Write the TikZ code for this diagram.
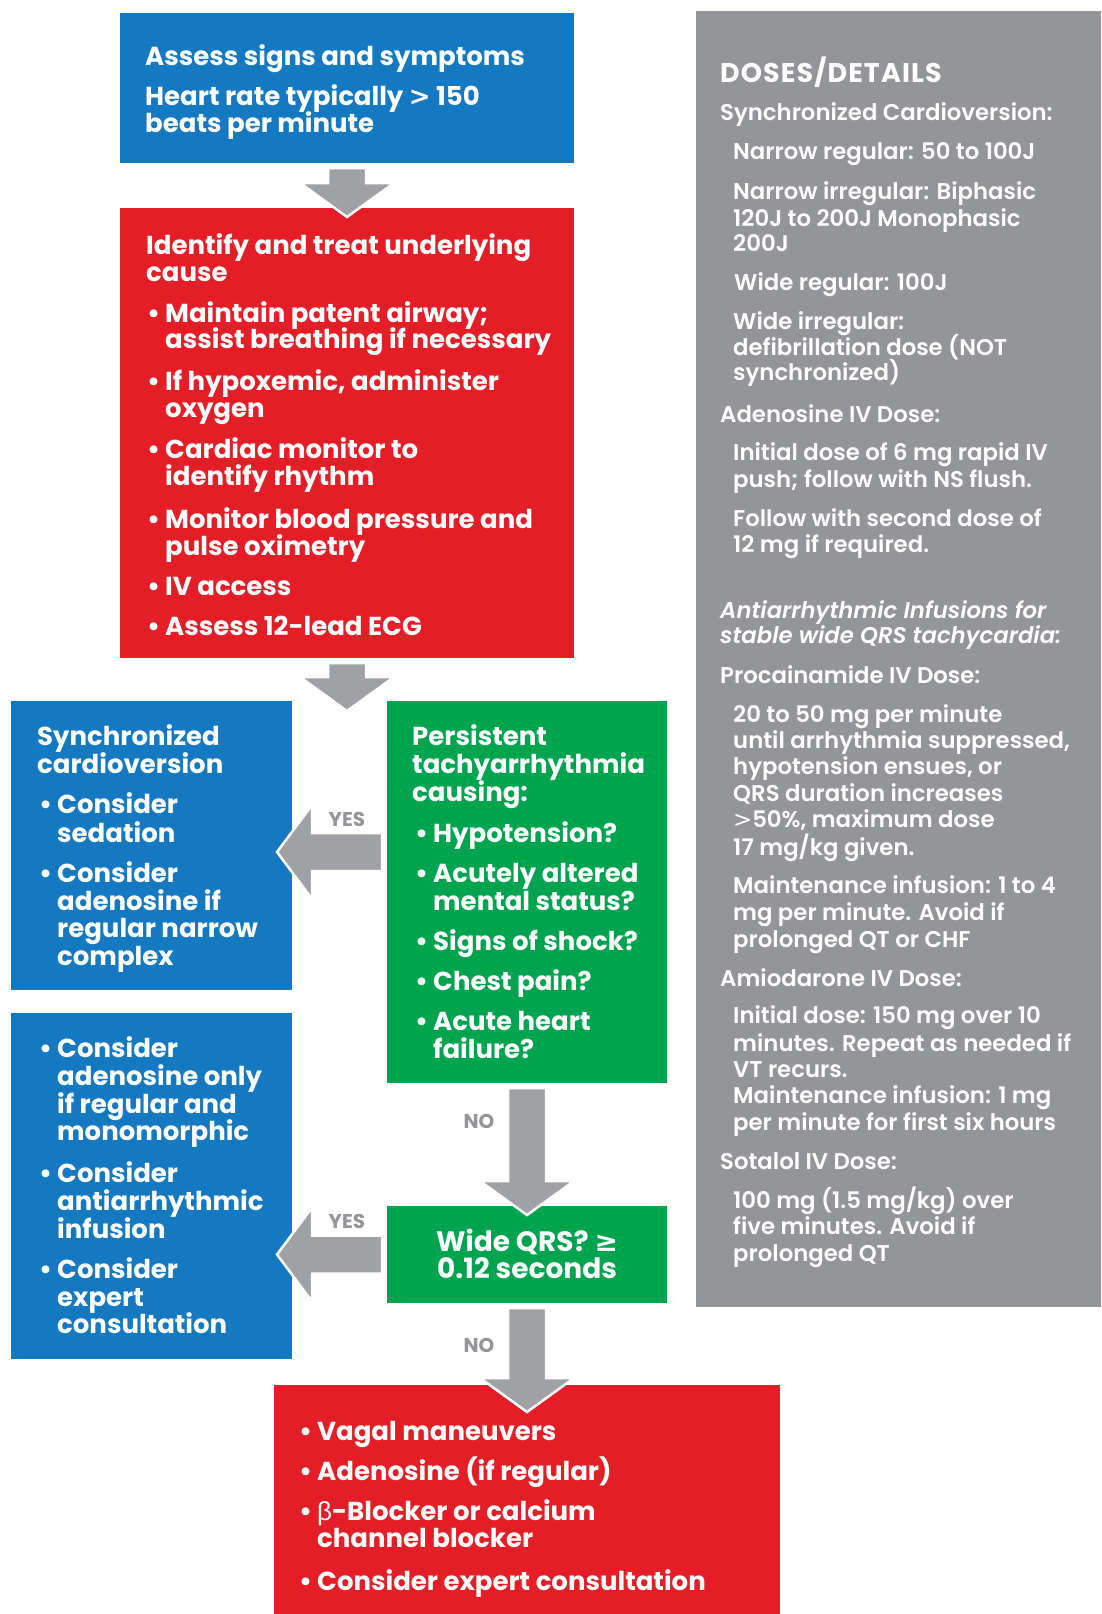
\documentclass[tikz,border=0pt]{standalone}
\usepackage{fontspec}
\setmainfont{Poppins}
\newfontfamily\semib{Poppins SemiBold}
\newfontfamily\symf{DejaVu Sans}
\newfontfamily\grkf{Liberation Sans}
\usetikzlibrary{calc}
\definecolor{cblue}{HTML}{1479C1}
\definecolor{cred}{HTML}{E31E26}
\definecolor{cgreen}{HTML}{00A44F}
\definecolor{cgraybox}{HTML}{939598}
\definecolor{carrow}{HTML}{A0A1A5}
\newcommand\bul{\llap{\makebox[18pt][l]{•}}}
\newcommand\gt{{\symf >}}
\newcommand\dnarrow[3]{%
  \path[blockarrow] let \p1=(#1.south), \p2=(#2.north) in
   (\x1-19pt,\y1-5pt) -- (\x1+19pt,\y1-5pt) -- (\x1+19pt,\y2-#3pt+34pt)
   -- (\x1+47pt,\y2-#3pt+34pt) -- (\x1,\y2-#3pt) -- (\x1-47pt,\y2-#3pt+34pt)
   -- (\x1-19pt,\y2-#3pt+34pt) -- cycle;}
\newcommand\lfarrow[3]{%
  \path[blockarrow] let \p1=(#1.west), \p2=(#2.east), \p3=(#3) in
   (\x1-5pt,\y3+19pt) -- (\x2+20pt,\y3+19pt) -- (\x2+20pt,\y3+47pt)
   -- (\x2-15pt,\y3) -- (\x2+20pt,\y3-47pt) -- (\x2+20pt,\y3-19pt)
   -- (\x1-5pt,\y3-19pt) -- cycle;}
\begin{document}
\begin{tikzpicture}[x=1pt,y=-1pt,
  box/.style={draw=none,inner sep=0pt,outer sep=0pt,anchor=north west},
  blockarrow/.style={fill=carrow,draw=white,line width=2.5pt,line join=miter},
  txt/.style={anchor=base west,inner sep=0pt,text=white,font=\bfseries\fontsize{26}{28}\selectfont},
  ctxt/.style={anchor=base,inner sep=0pt,text=white,font=\bfseries\fontsize{28}{30}\selectfont},
  gtxt/.style={anchor=base west,inner sep=0pt,text=white,font=\semib\fontsize{22.8}{24}\selectfont},
  gitxt/.style={gtxt,font=\semib\itshape\fontsize{22.8}{24}\selectfont},
  ghead/.style={gtxt,font=\bfseries\fontsize{27}{29}\selectfont\addfontfeature{LetterSpace=4}},
  lbl/.style={anchor=base,inner sep=0pt,text=cgraybox,font=\bfseries\fontsize{20}{22}\selectfont}]
\useasboundingbox (0,0) rectangle (1101,1614);
\fill[white] (0,0) rectangle (1101,1614);

% boxes
\node[box,fill=cblue,minimum width=454pt,minimum height=150pt] (b1) at (120,13) {};
\node[box,fill=cred,minimum width=454pt,minimum height=450pt] (r1) at (120,208) {};
\node[box,fill=cblue,minimum width=281pt,minimum height=289pt] (b2) at (11,701) {};
\node[box,fill=cblue,minimum width=281pt,minimum height=346pt] (b3) at (11,1013) {};
\node[box,fill=cgreen,minimum width=280pt,minimum height=382pt] (g1) at (387,701) {};
\node[box,fill=cgreen,minimum width=280pt,minimum height=97pt] (g2) at (387,1206) {};
\node[box,fill=cred,minimum width=506pt,minimum height=229pt] (r2) at (274,1385) {};
\node[box,fill=cgraybox,minimum width=405pt,minimum height=1296pt] (gb) at (696,11) {};

% arrows
\coordinate (y1) at (0,852);
\dnarrow{b1}{r1}{9}
\dnarrow{r1}{g1}{10}
\dnarrow{g1}{g2}{9}
\dnarrow{g2}{r2}{27}
\lfarrow{g1}{b2}{y1}
\lfarrow{g2}{b3}{g2.west}

% arrow labels
\node[lbl] (yes1) at (347,826) {YES};
\node[lbl] (yes2) at (347,1228) {YES};
\node[lbl] (no1) at (479,1128) {NO};
\node[lbl] (no2) at (479,1352) {NO};

% top blue
\node[txt] (t1) at (145,65) {Assess signs and symptoms};
\node[txt] (t2) at (145,105) {Heart rate typically {\symf\bfseries >} 150};
\node[txt] (t3) at (145,132) {beats per minute};

% red 1
\node[txt] (r1a) at (146,254) {Identify and treat underlying};
\node[txt] (r1b) at (146,281) {cause};
\node[txt] (r1c) at (165,322) {\bul Maintain patent airway;};
\node[txt] (r1d) at (165,348) {assist breathing if necessary};
\node[txt] (r1e) at (165,390) {\bul If hypoxemic, administer};
\node[txt] (r1f) at (165,417) {oxygen};
\node[txt] (r1g) at (165,458) {\bul Cardiac monitor to};
\node[txt] (r1h) at (165,485) {identify rhythm};
\node[txt] (r1i) at (165,528) {\bul Monitor blood pressure and};
\node[txt] (r1j) at (165,555) {pulse oximetry};
\node[txt] (r1k) at (165,595) {\bul IV access};
\node[txt] (r1l) at (165,635) {\bul Assess 12-lead ECG};

% blue 2
\node[txt] (b2a) at (37,745) {Synchronized};
\node[txt] (b2b) at (37,773) {cardioversion};
\node[txt] (b2c) at (57,813) {\bul Consider};
\node[txt] (b2d) at (57,842) {sedation};
\node[txt] (b2e) at (57,882) {\bul Consider};
\node[txt] (b2f) at (57,910) {adenosine if};
\node[txt] (b2g) at (57,937) {regular narrow};
\node[txt] (b2h) at (57,965) {complex};

% blue 3
\node[txt] (b3a) at (57,1057) {\bul Consider};
\node[txt] (b3b) at (57,1085) {adenosine only};
\node[txt] (b3c) at (57,1113) {if regular and};
\node[txt] (b3d) at (57,1140) {monomorphic};
\node[txt] (b3e) at (57,1182) {\bul Consider};
\node[txt] (b3f) at (57,1210) {antiarrhythmic};
\node[txt] (b3g) at (57,1238) {infusion};
\node[txt] (b3h) at (57,1278) {\bul Consider};
\node[txt] (b3i) at (57,1306) {expert};
\node[txt] (b3j) at (57,1333) {consultation};

% green 1
\node[txt] (g1a) at (412,745) {Persistent};
\node[txt] (g1b) at (412,773) {tachyarrhythmia};
\node[txt] (g1c) at (412,801) {causing:};
\node[txt] (g1d) at (433,842) {\bul Hypotension?};
\node[txt] (g1e) at (433,882) {\bul Acutely altered};
\node[txt] (g1f) at (433,910) {mental status?};
\node[txt] (g1g) at (433,950) {\bul Signs of shock?};
\node[txt] (g1h) at (433,990) {\bul Chest pain?};
\node[txt] (g1i) at (433,1030) {\bul Acute heart};
\node[txt] (g1j) at (433,1058) {failure?};

% green 2
\node[ctxt] (g2a) at (527,1251) {Wide QRS? {\symf\bfseries ≥}};
\node[ctxt] (g2b) at (527,1278) {0.12 seconds};

% red 2
\node[txt] (r2a) at (317,1440) {\bul Vagal maneuvers};
\node[txt] (r2b) at (317,1480) {\bul Adenosine (if regular)};
\node[txt] (r2c) at (317,1520) {\bul {\grkf\mdseries β}-Blocker or calcium};
\node[txt] (r2d) at (317,1547) {channel blocker};
\node[txt] (r2e) at (317,1590) {\bul Consider expert consultation};

% gray details
\node[ghead] (d0) at (720,82) {DOSES/DETAILS};
\node[gtxt] (d1) at (720,120) {Synchronized Cardioversion:};
\node[gtxt] (d2) at (733,159) {Narrow regular: 50 to 100J};
\node[gtxt] (d3) at (733,199) {Narrow irregular: Biphasic};
\node[gtxt] (d4) at (733,226) {120J to 200J Monophasic};
\node[gtxt] (d5) at (733,251) {200J};
\node[gtxt] (d6) at (734,290) {Wide regular: 100J};
\node[gtxt] (d7) at (733,329) {Wide irregular:};
\node[gtxt] (d8) at (733,355) {defibrillation dose (NOT};
\node[gtxt] (d9) at (733,380) {synchronized)};
\node[gtxt] (d10) at (720,422) {Adenosine IV Dose:};
\node[gtxt] (d11) at (733,460) {Initial dose of 6 mg rapid IV};
\node[gtxt] (d12) at (733,487) {push; follow with NS flush.};
\node[gtxt] (d13) at (733,526) {Follow with second dose of};
\node[gtxt] (d14) at (733,552) {12 mg if required.};
\node[gitxt] (d15) at (720,618) {Antiarrhythmic Infusions for};
\node[gitxt] (d16) at (720,643) {stable wide QRS tachycardia:};
\node[gtxt] (d17) at (720,683) {Procainamide IV Dose:};
\node[gtxt] (d18) at (733,722) {20 to 50 mg per minute};
\node[gtxt] (d19) at (733,748) {until arrhythmia suppressed,};
\node[gtxt] (d20) at (733,774) {hypotension ensues, or};
\node[gtxt] (d21) at (733,801) {QRS duration increases};
\node[gtxt] (d22) at (733,827) {{\symf >}50\%, maximum dose};
\node[gtxt] (d23) at (733,855) {17 mg/kg given.};
\node[gtxt] (d24) at (733,893) {Maintenance infusion: 1 to 4};
\node[gtxt] (d25) at (733,920) {mg per minute. Avoid if};
\node[gtxt] (d26) at (733,947) {prolonged QT or CHF};
\node[gtxt] (d27) at (720,986) {Amiodarone IV Dose:};
\node[gtxt] (d28) at (733,1023) {Initial dose: 150 mg over 10};
\node[gtxt] (d29) at (733,1051) {minutes. Repeat as needed if};
\node[gtxt] (d30) at (733,1077) {VT recurs.};
\node[gtxt] (d31) at (733,1103) {Maintenance infusion: 1 mg};
\node[gtxt] (d32) at (733,1130) {per minute for first six hours};
\node[gtxt] (d33) at (720,1169) {Sotalol IV Dose:};
\node[gtxt] (d34) at (733,1208) {100 mg (1.5 mg/kg) over};
\node[gtxt] (d35) at (733,1234) {five minutes. Avoid if};
\node[gtxt] (d36) at (733,1261) {prolonged QT};
\end{tikzpicture}
\end{document}
